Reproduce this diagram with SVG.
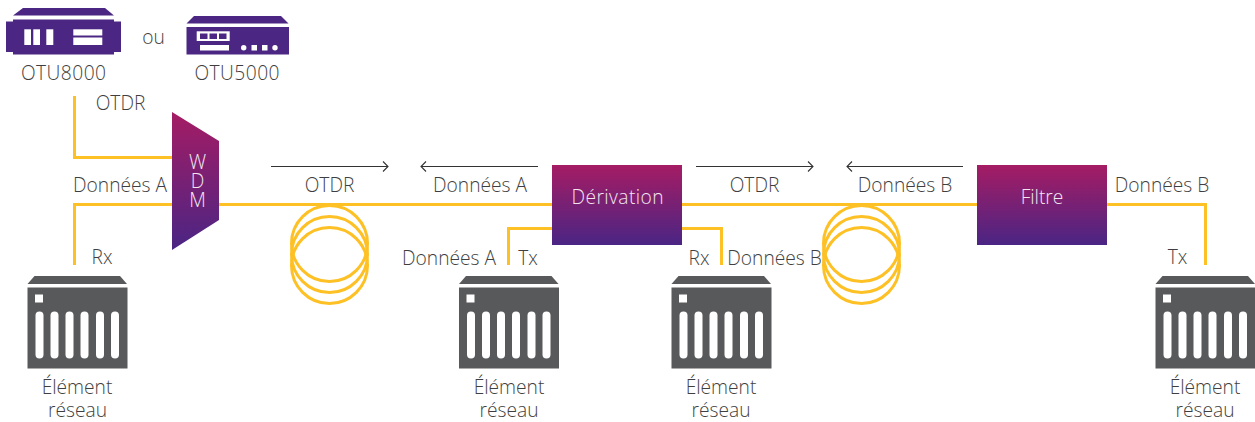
<svg xmlns="http://www.w3.org/2000/svg" xmlns:xlink="http://www.w3.org/1999/xlink" width="1255" height="422" viewBox="0 0 1255 422">
<style>
text{font-family:"Open Sans","Noto Sans",sans-serif;font-weight:300;font-size:19.200px;fill:#3f3f41;text-anchor:middle}
text.w{fill:#f3e6f0}
.f{fill:none;stroke:#fec125;stroke-width:3}
.a{fill:none;stroke:#333;stroke-width:1.1}
.p{fill:#4b2683}
.g{fill:#58595b}
.wh{fill:#fff}
</style>
<defs>
<linearGradient id="grad" x1="0" y1="0" x2="0" y2="1"><stop offset="0" stop-color="#a51c64"/><stop offset="1" stop-color="#4a2584"/></linearGradient>
<g id="ne">
<path class="g" d="M0 8.500 7 0.500H92.500L99.500 8.500Z"/>
<rect class="g" x="0" y="12" width="100" height="81"/>
<rect class="wh" x="7.500" y="19" width="8" height="8"/>
<rect class="wh" x="8" y="36" width="8" height="47" rx="4"/>
<rect class="wh" x="23" y="36" width="8" height="47" rx="4"/>
<rect class="wh" x="38" y="36" width="8" height="47" rx="4"/>
<rect class="wh" x="53" y="36" width="8" height="47" rx="4"/>
<rect class="wh" x="68.500" y="36" width="8" height="47" rx="4"/>
<rect class="wh" x="83.500" y="36" width="8" height="47" rx="4"/>
</g>
</defs>
<g id="connectors">
<path class="f" d="M74.500 96V157.500H172"/>
<path class="f" d="M74.500 265V204.500H172"/>
<path class="f" d="M219 204.500H552"/>
<path class="f" d="M682 204.500H977"/>
<path class="f" d="M1107 204.500H1205.500V265"/>
<path class="f" d="M552 228.500H508.500V265"/>
<path class="f" d="M682 228.500H721.500V265"/>
<circle class="f" cx="329.500" cy="243.500" r="38"/>
<circle class="f" cx="329.500" cy="254.500" r="38"/>
<circle class="f" cx="329.500" cy="265.500" r="38"/>
<circle class="f" cx="861.500" cy="243.500" r="38"/>
<circle class="f" cx="861.500" cy="254.500" r="38"/>
<circle class="f" cx="861.500" cy="265.500" r="38"/>
<path class="a" d="M271 166.500H388M383 161.500 388 166.500 383 171.500"/>
<path class="a" d="M538 166.500H421M426 161.500 421 166.500 426 171.500"/>
<path class="a" d="M696 166.500H813M808 161.500 813 166.500 808 171.500"/>
<path class="a" d="M963 166.500H847M852 161.500 847 166.500 852 171.500"/>
</g>
<g id="otu8000">
<path class="p" d="M13 15.500 23 8H105L114 15.500Z"/>
<path class="p" d="M13 19.500H114V21.500H121V52H114V54.500H13V52H6V21.500H13Z"/>
<rect class="wh" x="24.300" y="29.300" width="6.700" height="15.700"/>
<rect class="wh" x="33.300" y="29.300" width="6.700" height="15.700"/>
<rect class="wh" x="46.300" y="29.300" width="7" height="15.700"/>
<rect class="wh" x="73.300" y="29.300" width="29" height="6.200"/>
<rect class="wh" x="73.300" y="37.500" width="29" height="7.500"/>
<text x="63.500" y="79.500" textLength="85" lengthAdjust="spacing">OTU8000</text>
</g>
<text x="153.500" y="43.500">ou</text>
<g id="otu5000">
<path class="p" d="M186.500 23.500 194 16H281L288.500 23.500Z"/>
<rect class="p" x="186.500" y="27" width="102.500" height="27.500"/>
<rect class="wh" x="196.700" y="31.300" width="33" height="9.700"/>
<rect class="p" x="200" y="33.500" width="7.500" height="5.500"/>
<rect class="p" x="209.500" y="33.500" width="7.500" height="5.500"/>
<rect class="p" x="219" y="33.500" width="7.500" height="5.500"/>
<rect class="wh" x="200" y="45" width="29" height="5.500"/>
<circle class="wh" cx="243.700" cy="47.700" r="2.700"/>
<rect class="wh" x="251.500" y="45" width="5.500" height="5.500"/>
<rect class="wh" x="262" y="45" width="5.500" height="5.500"/>
<circle class="wh" cx="275" cy="47.700" r="2.700"/>
<text x="237" y="79.500" textLength="85" lengthAdjust="spacing">OTU5000</text>
</g>
<g id="wdm">
<path fill="url(#grad)" d="M172 112 219 141V220L172 250Z"/>
<text class="w"><tspan x="197.500" y="168.500">W</tspan><tspan x="197.500" y="188">D</tspan><tspan x="197.500" y="207">M</tspan></text>
</g>
<g id="derivation">
<rect fill="url(#grad)" x="552" y="165" width="130" height="80"/>
<text class="w" x="617.500" y="204" textLength="92" lengthAdjust="spacing">Dérivation</text>
</g>
<g id="filtre">
<rect fill="url(#grad)" x="977" y="165" width="130" height="80"/>
<text class="w" x="1042" y="204">Filtre</text>
</g>
<g id="labels">
<text x="120.500" y="110">OTDR</text>
<text x="120" y="191.700">Données A</text>
<text x="102" y="263.700">Rx</text>
<text x="329.500" y="191.700">OTDR</text>
<text x="480" y="191.700">Données A</text>
<text x="449" y="265">Données A</text>
<text x="528" y="265">Tx</text>
<text x="699" y="265">Rx</text>
<text x="774.500" y="265">Données B</text>
<text x="754.500" y="191.700">OTDR</text>
<text x="905" y="191.700">Données B</text>
<text x="1162" y="191.700">Données B</text>
<text x="1177.500" y="263.700">Tx</text>
</g>
<g id="element1"><use xlink:href="#ne" href="#ne" x="27.500" y="275.500"/><text x="77" y="393.700">Élément</text><text x="77.500" y="416.700">réseau</text></g>
<g id="element2"><use xlink:href="#ne" href="#ne" x="459" y="275.500"/><text x="509" y="393.700">Élément</text><text x="509" y="416.700">réseau</text></g>
<g id="element3"><use xlink:href="#ne" href="#ne" x="671.500" y="275.500"/><text x="721" y="393.700">Élément</text><text x="721" y="416.700">réseau</text></g>
<g id="element4"><use xlink:href="#ne" href="#ne" x="1155.500" y="275.500"/><text x="1205" y="393.700">Élément</text><text x="1205" y="416.700">réseau</text></g>
</svg>
